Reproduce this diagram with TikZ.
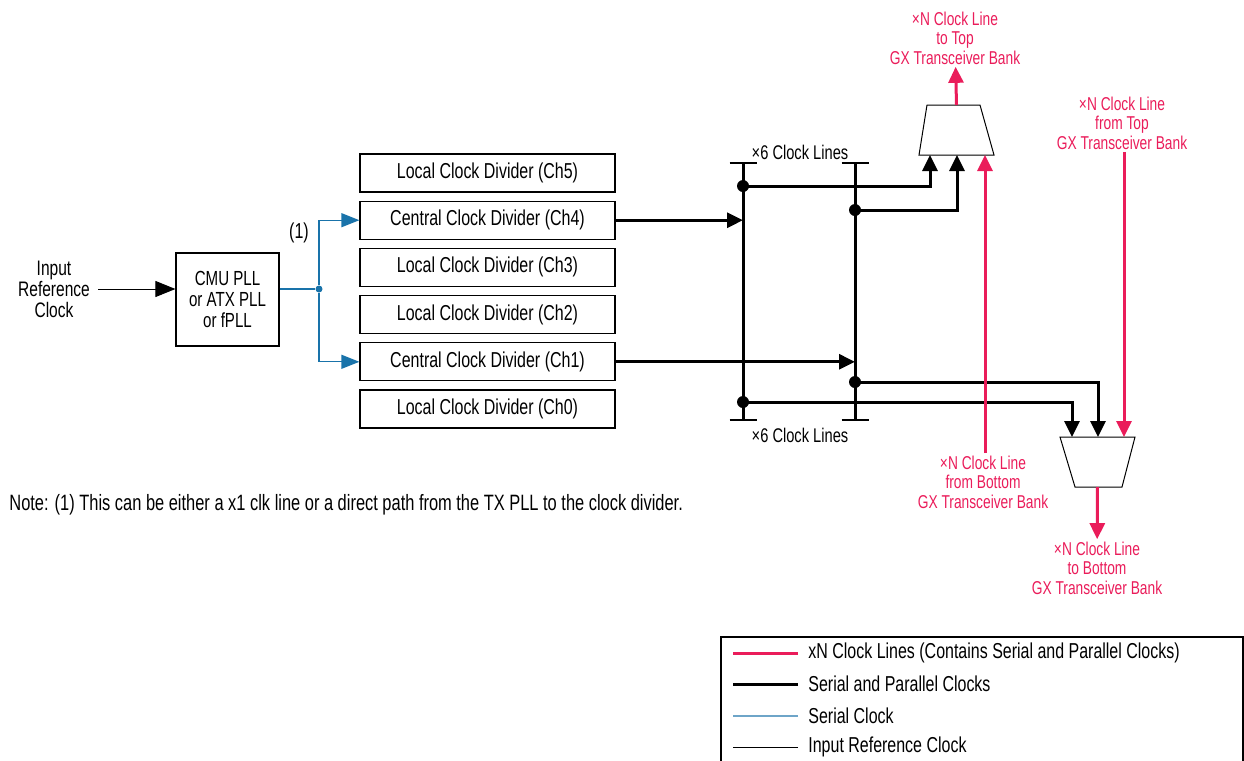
\documentclass[tikz,border=0pt]{standalone}
\usepackage{fontspec}
\setmainfont{Liberation Sans}[FakeStretch=0.74]
\usetikzlibrary{arrows.meta, positioning}
\definecolor{xncolor}{RGB}{234, 28, 90}
\definecolor{serialcolor}{RGB}{25, 115, 170}
\definecolor{legserial}{RGB}{110, 165, 200}
\tikzset{
  txt/.style={font=\fontsize{10.8}{10.5}\selectfont, align=center, inner sep=1pt},
  divblock/.style={rectangle, draw, line width=0.6pt, minimum width=127.5pt, minimum height=19pt, txt},
  pllblock/.style={rectangle, draw, line width=0.6pt, minimum width=51.5pt, minimum height=46.5pt, txt, font=\fontsize{10.2}{10.5}\selectfont},
  muxline/.style={draw, line width=0.5pt, fill=white},
  xntext/.style={txt, text=xncolor, font=\fontsize{9.3}{9.8}\selectfont},
  bustext/.style={txt, font=\fontsize{9.9}{10.5}\selectfont},
  busdot/.style={circle, fill, inner sep=0pt, minimum size=6pt},
  splitdot/.style={circle, fill=serialcolor, inner sep=0pt, minimum size=3.5pt},
  refarr/.style={-{Triangle[length=10pt, width=8pt]}, line width=0.5pt},
  serialarr/.style={-{Triangle[length=9pt, width=7pt]}, line width=0.6pt, color=serialcolor},
  bus/.style={line width=1.5pt},
  busarr/.style={bus, -{Triangle[length=8pt, width=7.5pt]}},
  xnarr/.style={-{Triangle[length=8pt, width=7.5pt]}, line width=1.5pt, color=xncolor},
  tick/.style={line width=0.6pt}
}

\begin{document}
\begin{tikzpicture}[x=0.5pt, y=-0.5pt]
  \useasboundingbox (0,0) rectangle (1244,761);

  \node[txt, font=\fontsize{10.5}{10.5}\selectfont, inner xsep=4pt] (inref) at (54,289) {Input\\Reference\\Clock};
  \node[pllblock] (pll) at (227.5,299.5) {CMU PLL\\or ATX PLL\\or fPLL};
  \node[splitdot] (split) at (319,289) {};
  \node[txt] (note1) at (299,233) {(1)};

  \node[divblock] (ch5) at (487.5,173) {Local Clock Divider (Ch5)};
  \node[divblock, below=4pt of ch5] (ch4) {Central Clock Divider (Ch4)};
  \node[divblock, below=4pt of ch4] (ch3) {Local Clock Divider (Ch3)};
  \node[divblock, below=4pt of ch3] (ch2) {Local Clock Divider (Ch2)};
  \node[divblock, below=4pt of ch2] (ch1) {Central Clock Divider (Ch1)};
  \node[divblock, below=4pt of ch1] (ch0) {Local Clock Divider (Ch0)};

  \draw[refarr] (inref) -- (inref -| pll.west);
  \draw[line width=0.6pt, color=serialcolor] (split -| pll.east) -- (split);
  \draw[serialarr] (split) |- (ch4.west);
  \draw[serialarr] (split) |- (ch1.west);

  \coordinate (b1t) at (743,163);
  \coordinate (b1b) at (743,420);
  \coordinate (b2t) at (855,163);
  \coordinate (b2b) at (855,420);
  \node[bustext] (x6top) at (800,152) {×6 Clock Lines};
  \node[bustext] (x6bot) at (800,435) {×6 Clock Lines};

  \draw[bus] (b1t) -- (b1b);
  \draw[bus] (b2t) -- (b2b);
  \draw[tick] ([xshift=-6.75pt]b1t) -- ([xshift=6.75pt]b1t);
  \draw[tick] ([xshift=-6.75pt]b1b) -- ([xshift=6.75pt]b1b);
  \draw[tick] ([xshift=-6.75pt]b2t) -- ([xshift=6.75pt]b2t);
  \draw[tick] ([xshift=-6.75pt]b2b) -- ([xshift=6.75pt]b2b);

  \draw[busarr] (ch4) -- (ch4 -| b1t);
  \draw[busarr] (ch1) -- (ch1 -| b2t);

  \coordinate (topmux) at (956.5,105);
  \coordinate (botmux) at (1097.5,487);
  \path[muxline] (919,155) -- (927,105) -- (980,105) -- (994,155) -- cycle;
  \path[muxline] (1060,437) -- (1135,437) -- (1122,487) -- (1075,487) -- cycle;

  \coordinate (tin1) at (930,155);
  \coordinate (tin2) at (957,155);
  \coordinate (tin3) at (985,155);
  \coordinate (bin1) at (1072,437);
  \coordinate (bin2) at (1098,437);
  \coordinate (bin3) at (1124,437);

  \node[busdot] (d1) at (743,186) {};
  \node[busdot] (d2) at (855,210) {};
  \node[busdot] (d3) at (855,382) {};
  \node[busdot] (d4) at (743,402) {};

  \draw[busarr] (d1.center) -| (tin1);
  \draw[busarr] (d2.center) -| (tin2);
  \draw[busarr] (d3.center) -| (bin2);
  \draw[busarr] (d4.center) -| (bin1);

  \node[xntext] (totop)   at (955,38)   {×N Clock Line\\to Top\\GX Transceiver Bank};
  \node[xntext] (fromtop) at (1122,123) {×N Clock Line\\from Top\\GX Transceiver Bank};
  \node[xntext] (frombot) at (983,482)  {×N Clock Line\\from Bottom\\GX Transceiver Bank};
  \node[xntext] (tobot)   at (1097,568) {×N Clock Line\\to Bottom\\GX Transceiver Bank};

  \draw[xnarr] (topmux) -- (totop);
  \draw[xnarr] (frombot.north -| tin3) -- (tin3);
  \draw[xnarr] (fromtop.south -| bin3) -- (bin3);
  \draw[xnarr] (botmux) -- (tobot);

  \node[txt, anchor=west, font=\fontsize{11.1}{11}\selectfont] (note) at (7,505) {Note: (1) This can be either a x1 clk line or a direct path from the TX PLL to the clock divider.};

  \draw[line width=0.6pt] (721,637) rectangle (1243,790);
  \node[txt, anchor=west] (leg1) at (806,653) {xN Clock Lines (Contains Serial and Parallel Clocks)};
  \node[txt, anchor=west] (leg2) at (806,684) {Serial and Parallel Clocks};
  \node[txt, anchor=west] (leg3) at (806,716) {Serial Clock};
  \node[txt, anchor=west] (leg4) at (806,747) {Input Reference Clock};
  \draw[line width=1.5pt, color=xncolor] (leg1.west) ++(-8,0) -- ++(-65,0);
  \draw[line width=1.5pt] (leg2.west) ++(-8,0) -- ++(-65,0);
  \draw[line width=0.6pt, color=legserial] (leg3.west) ++(-8,0) -- ++(-65,0);
  \draw[line width=0.5pt] (leg4.west) ++(-8,0) -- ++(-65,0);

\end{tikzpicture}
\end{document}
